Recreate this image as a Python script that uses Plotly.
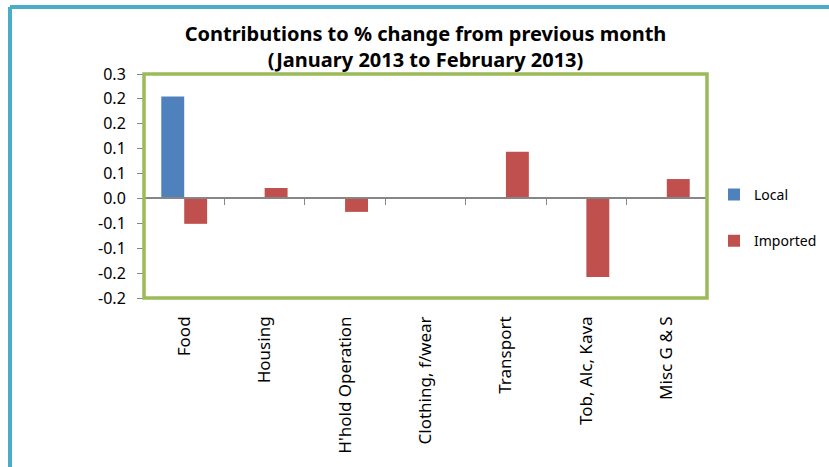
import plotly.graph_objects as go

categories = ["Food", "Housing", "H'hold Operation", "Clothing, f/wear", "Transport", "Tob, Alc, Kava", "Misc G & S"]
local_vals = [0.205, 0.0, 0.0, 0.0, 0.0, 0.0, 0.0]
imported_vals = [-0.051, 0.021, -0.027, 0.0, 0.094, -0.158, 0.039]
ytick_vals = [-0.2, -0.15, -0.1, -0.05, 0.0, 0.05, 0.1, 0.15, 0.2, 0.25]
ytick_text = ["-0.2", "-0.2", "-0.1", "-0.1", "0.0", "0.1", "0.1", "0.2", "0.2", "0.3"]

FONT = "Noto Sans"
ymin, ymax = -0.2, 0.25

fig = go.Figure()
fig.add_trace(go.Bar(x=categories, y=local_vals, name="Local", legendgroup="local",
                     marker=dict(color="#4F81BD", line=dict(width=0))))
fig.add_trace(go.Bar(x=categories, y=imported_vals, name="Imported", legendgroup="imported",
                     marker=dict(color="#C0504D", line=dict(width=0))))
# helper trace for the zero-line category axis
fig.add_trace(go.Scatter(x=categories, y=[0] * len(categories), xaxis="x2", mode="none",
                         showlegend=False, hoverinfo="skip"))

zero_pos = (0 - ymin) / (ymax - ymin)

fig.update_layout(
    width=829, height=467,
    margin=dict(l=144, r=122, t=74, b=169, autoexpand=False),
    paper_bgcolor="white", plot_bgcolor="white",
    barmode="group", bargap=0.43, bargroupgap=0.0,
    font=dict(family=FONT, color="black"),
    title=dict(text="<b>Contributions to % change from previous month<br>(January 2013 to February 2013)</b>",
               x=0.5, xref="paper", xanchor="center", y=0.913, yref="container", yanchor="top",
               font=dict(size=20, family=FONT)),
    xaxis=dict(type="category", categoryarray=categories, range=[-0.5, 6.5], showline=False,
               showgrid=False, ticks="", tickangle=-90, tickfont=dict(size=17), ticklabelstandoff=14,
               automargin=False),
    xaxis2=dict(type="category", categoryarray=categories, range=[-0.5, 6.5], overlaying="x",
                anchor="free", position=zero_pos, showline=True, linecolor="#868686", linewidth=2,
                ticks="outside", tickson="boundaries", ticklen=6, tickcolor="#868686", tickwidth=1,
                showticklabels=False, showgrid=False, automargin=False),
    yaxis=dict(range=[ymin, ymax], tickvals=ytick_vals, ticktext=ytick_text, showgrid=False,
               zeroline=False, showline=True, linecolor="#868686", linewidth=1, ticks="outside",
               ticklen=6, tickcolor="#868686", tickfont=dict(size=16), ticklabelstandoff=8,
               automargin=False),
    legend=dict(xref="container", yref="container", x=714 / 829, y=0.617, xanchor="left", yanchor="top",
                font=dict(size=14), tracegroupgap=25, bgcolor="rgba(0,0,0,0)", itemwidth=30),
    shapes=[
        dict(type="rect", xref="paper", yref="paper", x0=0, x1=1, y0=0, y1=1,
             line=dict(color="#9BBB59", width=3.5), layer="above"),
        # outer chart border (left and top edges visible)
        dict(type="line", xref="paper", yref="paper", x0=-0.238, x1=-0.238, y0=-0.8, y1=1.299,
             line=dict(color="#4BACC6", width=4), layer="above"),
        dict(type="line", xref="paper", yref="paper", x0=-0.238, x1=1.3, y0=1.299, y1=1.299,
             line=dict(color="#4BACC6", width=4), layer="above"),
    ],
)

fig.write_html("out.html", config={"displayModeBar": False},
               post_script="document.body.style.margin='0';")
